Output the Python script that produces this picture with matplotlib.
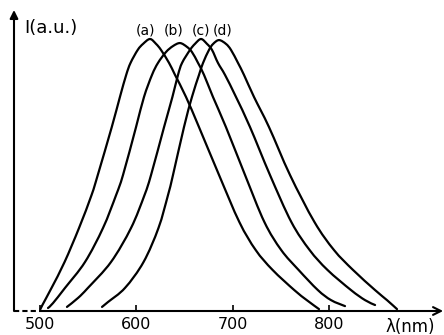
import matplotlib
matplotlib.use("Agg")
import matplotlib.pyplot as plt
import numpy as np
from matplotlib.path import Path
from matplotlib.patches import PathPatch

# emission spectra (a)-(d): wavelength in nm, intensity in arbitrary units
wl_a = [500.5, 502.5, 512.0, 525.5, 540.5, 553.5, 560.0, 574.5, 583.0, 589.5,
        594.0, 601.5, 607.0, 614.2, 620.5, 625.6, 634.0, 640.2, 651.6, 665.1,
        685.9, 707.0, 724.0, 741.5, 764.0, 777.0, 789.7]
int_a = [0.007, 0.022, 0.085, 0.180, 0.305, 0.426, 0.500, 0.676, 0.787, 0.868,
         0.912, 0.960, 0.982, 1.000, 0.982, 0.960, 0.912, 0.868, 0.787, 0.676,
         0.500, 0.327, 0.224, 0.151, 0.077, 0.040, 0.007]

wl_b = [508.3, 513.5, 526.0, 546.7, 565.4, 579.0, 586.2, 599.7, 608.0, 616.3,
        622.5, 630.8, 638.1, 645.4, 652.6, 657.8, 664.1, 670.3, 679.6, 693.1,
        712.9, 733.0, 750.5, 768.5, 788.5, 802.2, 816.7]
int_b = [0.011, 0.029, 0.085, 0.180, 0.305, 0.426, 0.500, 0.676, 0.787, 0.868,
         0.912, 0.952, 0.974, 0.985, 0.971, 0.952, 0.912, 0.868, 0.787, 0.676,
         0.500, 0.327, 0.224, 0.151, 0.077, 0.040, 0.018]

wl_c = [528.0, 539.5, 549.8, 573.7, 594.5, 608.5, 615.3, 628.8, 637.5, 643.3,
        647.5, 655.8, 660.9, 667.2, 673.4, 678.6, 684.8, 692.1, 703.5, 718.1,
        738.8, 761.0, 780.0, 798.5, 822.9, 837.5, 847.9]
int_c = [0.015, 0.048, 0.085, 0.180, 0.305, 0.426, 0.500, 0.676, 0.787, 0.868,
         0.912, 0.960, 0.982, 1.000, 0.982, 0.960, 0.912, 0.868, 0.787, 0.676,
         0.500, 0.327, 0.224, 0.151, 0.077, 0.040, 0.022]

wl_d = [564.4, 570.6, 588.3, 607.5, 623.0, 632.9, 638.1, 649.5, 657.8, 665.1,
        669.3, 675.5, 679.8, 685.9, 693.1, 698.3, 705.6, 711.8, 722.2, 737.8,
        759.6, 785.0, 805.3, 825.0, 847.9, 860.3, 870.7]
int_d = [0.015, 0.033, 0.085, 0.180, 0.305, 0.426, 0.500, 0.676, 0.787, 0.868,
         0.912, 0.960, 0.982, 0.996, 0.982, 0.960, 0.912, 0.868, 0.787, 0.676,
         0.500, 0.327, 0.224, 0.151, 0.077, 0.040, 0.007]

curve_labels = ["(a)", "(b)", "(c)", "(d)"]
label_x = [609.6, 639, 667, 690]
x_ticks = [500, 600, 700, 800]


def smooth_path(xs, ys):
    """Catmull-Rom curve through the points, as cubic Bezier segments."""
    pts = np.column_stack([xs, ys]).astype(float)
    n = len(pts)
    verts = [pts[0]]
    codes = [Path.MOVETO]
    for i in range(n - 1):
        p0 = pts[max(i - 1, 0)]
        p1 = pts[i]
        p2 = pts[i + 1]
        p3 = pts[min(i + 2, n - 1)]
        verts += [p1 + (p2 - p0) / 6.0, p2 - (p3 - p1) / 6.0, p2]
        codes += [Path.CURVE4] * 3
    return Path(verts, codes)


fig = plt.figure(figsize=(4.44, 3.35), dpi=100)
ax = fig.add_axes([14 / 444, 24 / 335, 430 / 444, 301 / 335])
ax.set_xlim(473.0, 919.5)
ax.set_ylim(0, 1.1066)
for spine in ax.spines.values():
    spine.set_visible(False)
ax.set_yticks([])

for xs, ys in [(wl_a, int_a), (wl_b, int_b), (wl_c, int_c), (wl_d, int_d)]:
    ax.add_patch(PathPatch(smooth_path(xs, ys), facecolor="none",
                           edgecolor="black", lw=1.6, capstyle="round",
                           joinstyle="round"))

for lab, lx in zip(curve_labels, label_x):
    ax.text(lx, 1.033, lab, ha="center", va="center", fontsize=10)

# hand-drawn style axes: arrow up, dashed stub then arrow to the right
ax.annotate("", xy=(0, 1.0), xytext=(0, 0), xycoords="axes fraction",
            arrowprops=dict(arrowstyle="-|>", lw=1.5, color="black",
                            mutation_scale=12, shrinkA=0, shrinkB=0))
ax.plot([473.0, 500], [0, 0], color="black", lw=1.5, ls=(0, (2.5, 1.5)),
        clip_on=False)
ax.annotate("", xy=(0.998, 0), xytext=(500, 0), xycoords="axes fraction",
            textcoords="data",
            arrowprops=dict(arrowstyle="->", lw=1.5, color="black",
                            mutation_scale=14, shrinkA=0, shrinkB=0))

ax.text(484.0, 1.040, "I(a.u.)", ha="left", va="center", fontsize=13)
ax.text(884.0, -0.058, "λ(nm)", ha="center", va="center", fontsize=12,
        clip_on=False)

ax.set_xticks(x_ticks, [str(t) for t in x_ticks])
ax.tick_params(axis="x", direction="in", length=4, width=1.2, pad=4.5,
               labelsize=11.5)

fig.savefig("out.png", dpi=100)
